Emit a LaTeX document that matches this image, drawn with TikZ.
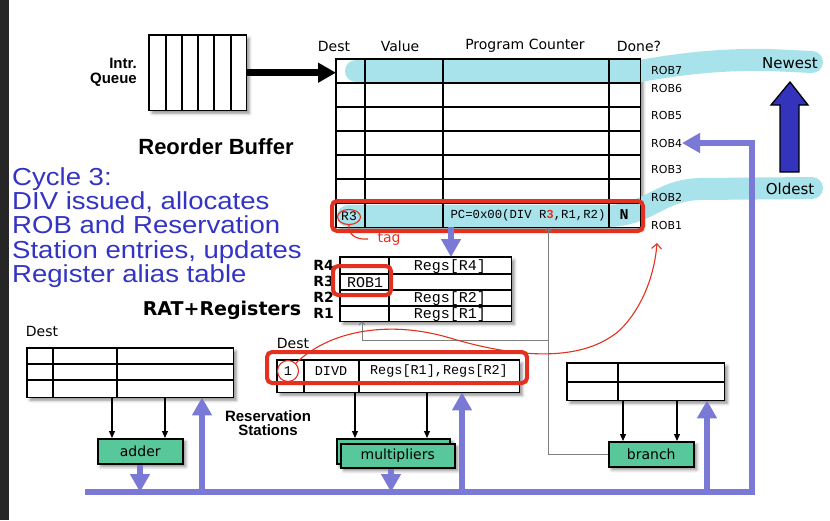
\documentclass[tikz,border=0pt]{standalone}
\usepackage{fontspec}
\setmainfont{Liberation Sans}
\newfontfamily\comicfont{DejaVu Sans}
\newfontfamily\ttfont{Liberation Mono}
\newfontfamily\slidefont[FakeStretch=1.12]{Liberation Sans}
\usetikzlibrary{arrows.meta,shapes.geometric,shadows.blur}
\definecolor{buscol}{RGB}{122,122,214}
\definecolor{unitgreen}{RGB}{88,199,153}
\definecolor{bandcyan}{RGB}{168,226,234}
\definecolor{slideblue}{RGB}{52,52,196}
\definecolor{arrowblue}{RGB}{51,51,187}
\definecolor{markred}{RGB}{228,48,30}
\begin{document}
\begin{tikzpicture}[x=1pt,y=-1pt,
  sh/.style={blur shadow={shadow xshift=3pt,shadow yshift=-3pt,shadow blur radius=3pt,shadow opacity=45}},
  tbl/.style={sh,fill=white,inner sep=0,anchor=north west},
  tblline/.style={line width=1.7pt},
  unit/.style={sh,draw,line width=1.5pt,fill=unitgreen,inner sep=0,anchor=north west,font=\comicfont\fontsize{14}{14}\selectfont},
  bus/.style={draw=buscol,line width=6pt},
  busarrow/.style={bus,-{Triangle[width=19pt,length=18pt]}},
  feed/.style={line width=1.2pt,-{Triangle[width=6pt,length=7pt]}},
  ctrl/.style={draw=black!50,line width=0.8pt,-{Straight Barb[length=3pt,width=6pt]}},
  hilite/.style={draw=markred,line width=4pt,rounded corners=5pt},
  band/.style={draw=bandcyan,line width=22pt,line cap=round},
  head/.style={inner sep=0,font=\comicfont\fontsize{14}{14}\selectfont},
  roblbl/.style={anchor=west,inner sep=0,font=\comicfont\fontsize{11}{11}\selectfont},
  reglbl/.style={anchor=east,inner sep=0,font=\comicfont\bfseries\fontsize{14}{14}\selectfont},
  mono/.style={inner sep=0,font=\ttfont\fontsize{#1}{#1}\selectfont},
]
\useasboundingbox (0,0) rectangle (830,520);
\fill[black!85] (0,0) rectangle (9,520);

% instruction queue
\node[tbl,minimum width=97pt,minimum height=75pt] (queue) at (149,35) {};
\draw[tblline] (queue.north west) rectangle (queue.south east);
\foreach \x in {166,182,198,214,231} \draw[tblline] (\x,35) -- (\x,110);
\node[align=right,anchor=east,inner sep=0,font=\bfseries\fontsize{15}{15}\selectfont] (qlabel) at (137,72) {Intr.\\Queue};

% reorder buffer
\node[tbl,minimum width=304pt,minimum height=168pt] (rob) at (336,59) {};
\draw[band] (356,71) -- (640,71) .. controls (680,64) and (720,59) .. (770,60) -- (812,62);
\draw[band] (348,216) -- (610,216) .. controls (650,214) and (660,190) .. (700,189) -- (812,188);
\draw[tblline] (rob.north west) rectangle (rob.south east);
\foreach \y in {83,107,131,155,179,203} \draw[tblline] (336,\y) -- (640,\y);
\foreach \x in {365,443,609} \draw[tblline] (\x,59) -- (\x,227);
\draw[line width=7pt,-{Triangle[width=19pt,length=18pt]}] (queue.east) -- (queue.east -| rob.west);

\node[head] (hdest) at (334,46) {Dest};
\node[head] (hval) at (400,46) {Value};
\node[head] (hpc) at (525,46) {Program Counter};
\node[head] (hdone) at (639,46) {Done?};
\node[inner sep=0,font=\bfseries\fontsize{22}{22}\selectfont] (robtitle) at (216,147) {Reorder Buffer};

\node[roblbl] (rob7) at (651,70) {ROB7};
\node[roblbl] (rob6) at (651,88) {ROB6};
\node[roblbl] (rob5) at (651,115) {ROB5};
\node[roblbl] (rob4) at (651,143) {ROB4};
\node[roblbl] (rob3) at (651,169) {ROB3};
\node[roblbl] (rob2) at (651,197) {ROB2};
\node[roblbl] (rob1) at (651,225) {ROB1};
\node[head,font=\comicfont\fontsize{15}{15}\selectfont] (newest) at (790,63) {Newest};
\node[head,font=\comicfont\fontsize{15}{15}\selectfont] (oldest) at (790,189) {Oldest};
\draw[fill=arrowblue,line width=1.3pt] (780,172) -- (780,105) -- (771,105) -- (790,82) -- (808,105) -- (799,105) -- (799,172) -- cycle;

\node[mono=13] (r3tag) at (349,216) {R3};
\node[ellipse,draw=markred,line width=1.1pt,minimum width=23pt,minimum height=15pt,inner sep=0] (r3ring) at (349,217) {};
\draw[markred,line width=1.1pt] (r3ring.south) .. controls (348,234) and (355,240) .. (368,239);
\node[inner sep=0,text=markred,font=\comicfont\fontsize{14}{14}\selectfont] (tag) at (389,239) {tag};
\node[mono=12.3] (pcval) at (528,215) {PC=0x00(DIV R{\color{markred}\bfseries 3},R1,R2)};
\node[inner sep=0,font=\ttfont\bfseries\fontsize{15}{15}\selectfont] (done) at (624,215) {N};
\draw[hilite] (332,201) rectangle (643,231);

% register alias table
\node[tbl,minimum width=171pt,minimum height=64pt] (rat) at (340,257) {};
\draw[tblline,line width=1.5pt] (rat.north west) rectangle (rat.south east);
\foreach \y in {274,290,306} \draw[tblline,line width=1.5pt] (340,\y) -- (511,\y);
\draw[tblline,line width=1.5pt] (389,257) -- (389,321);
\node[reglbl] (lr4) at (334,265) {R4};
\node[reglbl] (lr3) at (334,281) {R3};
\node[reglbl] (lr2) at (334,297) {R2};
\node[reglbl] (lr1) at (334,313) {R1};
\node[mono=15] (reg4) at (450,267) {Regs[R4]};
\node[mono=15] (rat3) at (365,283) {ROB1};
\node[mono=15] (reg2) at (450,299) {Regs[R2]};
\node[mono=15] (reg1) at (450,315) {Regs[R1]};
\draw[hilite] (333,266) rectangle (391,295);
\node[inner sep=0,font=\comicfont\bfseries\fontsize{19}{19}\selectfont] (rattitle) at (222,310) {RAT+Registers};
\draw[busarrow] (rob.south -| 451,0) -- (rat.north -| 451,0);

% reservation stations
\node[tbl,minimum width=206pt,minimum height=49pt] (rsadd) at (27,348) {};
\draw[tblline] (rsadd.north west) rectangle (rsadd.south east);
\foreach \y in {364,380} \draw[tblline] (27,\y) -- (233,\y);
\foreach \x in {53,117} \draw[tblline] (\x,348) -- (\x,397);
\node[head] (adddest) at (42,331) {Dest};

\node[tbl,minimum width=242pt,minimum height=32pt] (rsmul) at (277,360) {};
\draw[tblline] (rsmul.north west) rectangle (rsmul.south east);
\draw[tblline] (277,382) -- (519,382);
\foreach \x in {304,359} \draw[tblline] (\x,360) -- (\x,392);
\node[head] (muldest) at (293,343) {Dest};
\node[circle,draw=markred,line width=1.1pt,minimum size=21pt,inner sep=0,font=\ttfont\fontsize{13.5}{13.5}\selectfont] (one) at (288,371) {1};
\node[mono=13.5] (divd) at (331,371) {DIVD};
\node[mono=13.5] (ops) at (439,371) {Regs[R1],Regs[R2]};
\draw[hilite] (267,352) rectangle (527,383);

\node[tbl,minimum width=157pt,minimum height=37pt] (rsbr) at (567,363) {};
\draw[tblline] (rsbr.north west) rectangle (rsbr.south east);
\draw[tblline] (567,382) -- (724,382);
\draw[tblline] (618,363) -- (618,400);

\node[align=center,inner sep=0,font=\bfseries\fontsize{15}{14}\selectfont] (rslabel) at (268,423) {Reservation\\Stations};

% functional units
\node[unit,minimum width=85pt,minimum height=25pt] (adder) at (97,438) {adder};
\node[unit,minimum width=113pt,minimum height=25pt] (mulb) at (336,438) {};
\node[unit,minimum width=114pt,minimum height=24pt] (mulf) at (340,443) {multipliers};
\node[unit,minimum width=85pt,minimum height=25pt] (branch) at (608,441) {branch};

\foreach \x in {112,165} \draw[feed] (rsadd.south -| \x,0) -- (adder.north -| \x,0);
\foreach \x in {355,427} \draw[feed] (rsmul.south -| \x,0) -- (mulb.north -| \x,0);
\foreach \x in {623,677} \draw[feed] (rsbr.south -| \x,0) -- (branch.north -| \x,0);

% branch feedback
\coordinate (ctrlj) at (548,340);
\draw[ctrl] (branch.west) -| (rob.south -| ctrlj);
\draw[ctrl] (ctrlj) -| (rat.south -| 362,0);

% common data bus
\coordinate (busl) at (85,492);
\coordinate (busr) at (752,492);
\coordinate (bustop) at (752,143);
\coordinate (rob4in) at (682,143);
\draw[busarrow] (busl) -- (busr) -- (bustop) -- (rob4in);
\draw[busarrow] (busl -| 202,0) -- (rsadd.south -| 202,0);
\draw[busarrow] (busl -| 462,0) -- (rsmul.south -| 462,0);
\draw[busarrow] (busl -| 707,0) -- (rsbr.south -| 707,0);
\draw[busarrow] (adder.south -| 140,0) -- (busl -| 140,0);
\draw[busarrow] (mulf.south -| 391,0) -- (busl -| 391,0);

% cycle note
\node[anchor=north west,align=left,inner sep=0,text=slideblue,font=\slidefont\fontsize{24.6}{24.4}\selectfont] (cycle) at (12,167) {Cycle 3:\\DIV issued, allocates\\ROB and Reservation\\Station entries, updates\\Register alias table};

% rob entry link
\coordinate (tagin) at (657,243);
\draw[markred,line width=1.1pt,-{Straight Barb[length=5pt,width=10pt]}] (one.north east) .. controls (330,330) and (390,320) .. (450,338) .. controls (510,356) and (580,365) .. (620,330) .. controls (645,305) and (655,270) .. (tagin);
\end{tikzpicture}
\end{document}
